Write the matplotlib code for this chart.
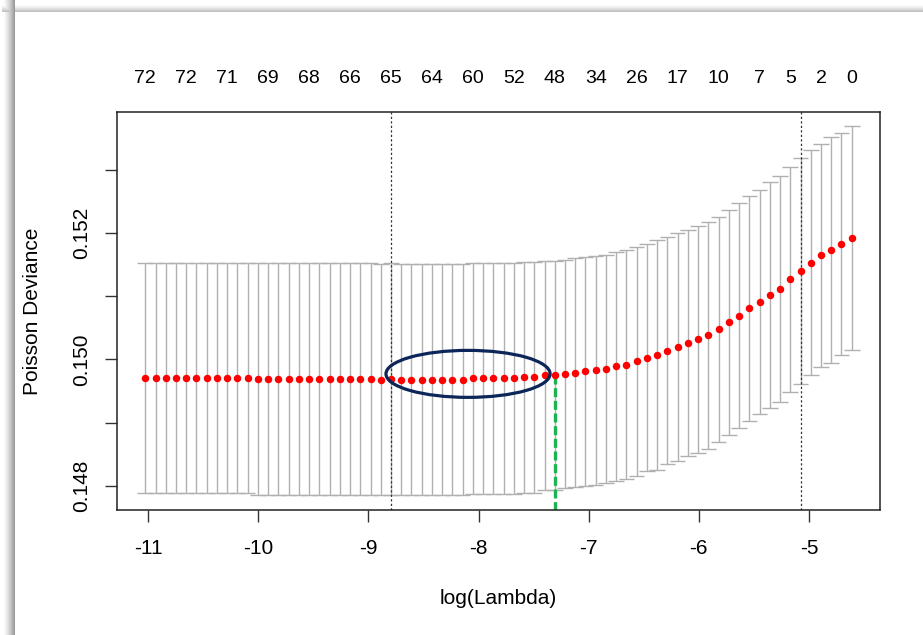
import numpy as np
import matplotlib
matplotlib.use("Agg")
import matplotlib.pyplot as plt
from matplotlib.patches import Ellipse

plt.rcParams["font.family"] = ["Liberation Sans", "DejaVu Sans"]

# cross-validation curve (glmnet style)
log_lambda = [
    -11.025, -10.932, -10.839, -10.746, -10.653, -10.560, -10.467, -10.374, -10.281, -10.189,
    -10.096, -10.003, -9.910, -9.817, -9.724, -9.631, -9.538, -9.445, -9.352, -9.259,
    -9.166, -9.073, -8.980, -8.887, -8.794, -8.702, -8.609, -8.516, -8.423, -8.330,
    -8.237, -8.144, -8.051, -7.958, -7.865, -7.772, -7.679, -7.586, -7.493, -7.400,
    -7.307, -7.215, -7.122, -7.029, -6.936, -6.843, -6.750, -6.657, -6.564, -6.471,
    -6.378, -6.285, -6.192, -6.099, -6.006, -5.913, -5.820, -5.728, -5.635, -5.542,
    -5.449, -5.356, -5.263, -5.170, -5.077, -4.984, -4.891, -4.798, -4.705, -4.612,
]
cvm = [
    0.14970, 0.14970, 0.14970, 0.14970, 0.14970, 0.14970, 0.14970, 0.14970, 0.14970, 0.14970,
    0.14970, 0.14969, 0.14969, 0.14969, 0.14969, 0.14969, 0.14969, 0.14969, 0.14969, 0.14969,
    0.14969, 0.14969, 0.14969, 0.14968, 0.14969, 0.14968, 0.14968, 0.14968, 0.14968, 0.14968,
    0.14968, 0.14968, 0.14970, 0.14970, 0.14970, 0.14970, 0.14970, 0.14972, 0.14972, 0.14975,
    0.14975, 0.14977, 0.14979, 0.14981, 0.14983, 0.14985, 0.14989, 0.14992, 0.14997, 0.15003,
    0.15007, 0.15014, 0.15020, 0.15026, 0.15032, 0.15038, 0.15048, 0.15059, 0.15069, 0.15081,
    0.15091, 0.15102, 0.15112, 0.15127, 0.15140, 0.15153, 0.15165, 0.15173, 0.15183, 0.15192,
]
cvsd = [
    0.00182, 0.00182, 0.00182, 0.00182, 0.00182, 0.00182, 0.00182, 0.00182, 0.00182, 0.00182,
    0.00182, 0.00183, 0.00183, 0.00183, 0.00183, 0.00183, 0.00183, 0.00183, 0.00183, 0.00183,
    0.00183, 0.00183, 0.00183, 0.00183, 0.00183, 0.00183, 0.00183, 0.00183, 0.00183, 0.00183,
    0.00183, 0.00183, 0.00183, 0.00183, 0.00183, 0.00183, 0.00183, 0.00183, 0.00183, 0.00181,
    0.00181, 0.00181, 0.00181, 0.00181, 0.00181, 0.00181, 0.00181, 0.00181, 0.00181, 0.00180,
    0.00182, 0.00180, 0.00180, 0.00179, 0.00180, 0.00180, 0.00178, 0.00178, 0.00178, 0.00178,
    0.00178, 0.00179, 0.00179, 0.00178, 0.00179, 0.00178, 0.00177, 0.00179, 0.00176, 0.00177,
]

# number of non-zero coefficients shown on the top axis
nzero_idx = [0, 4, 8, 12, 16, 20, 24, 28, 32, 36, 40, 44, 48, 52, 56, 60, 63, 66, 69]
nzero_lab = [72, 72, 71, 69, 68, 66, 65, 64, 60, 52, 48, 34, 26, 17, 10, 7, 5, 2, 0]

idx_min = 24     # lambda.min
idx_1se = 64     # lambda.1se
idx_pick = 40    # green marker

x_ticks = [-11, -10, -9, -8, -7, -6, -5]
y_ticks = [0.148, 0.149, 0.150, 0.151, 0.152, 0.153]
y_ticklabels = ["0.148", "", "0.150", "", "0.152", ""]

x = np.array(log_lambda)
m = np.array(cvm)
up = m + np.array(cvsd)
lo = m - np.array(cvsd)

W, H = 923, 635
fig = plt.figure(figsize=(W / 100, H / 100), dpi=100)

# screenshot drop shadow on the left and top
bg = np.ones((H, W))
for c in range(2, 15):
    bg[:, c] = 1 - 0.40 * ((c - 2) / 12) ** 1.5
for r in range(4, 12):
    bg[r, 2:] = np.minimum(bg[r, 2:], 1 - 0.25 * ((r - 4) / 7) ** 1.4)
bga = fig.add_axes([0, 0, 1, 1], zorder=-5)
bga.imshow(bg, cmap="gray", vmin=0, vmax=1, aspect="auto", interpolation="nearest")
bga.axis("off")

ax = fig.add_axes([117 / W, 1 - 510 / H, 763 / W, 398.3 / H])
ax.set_facecolor("white")

grey = "#b0b0b0"
barw = 0.011 * (x.max() - x.min())
ax.vlines(x, lo, up, colors=grey, lw=1.0, zorder=1)
ax.hlines(up, x - barw, x + barw, colors=grey, lw=1.0, zorder=1)
ax.hlines(lo, x - barw, x + barw, colors=grey, lw=1.0, zorder=1)

xr = x.max() - x.min()
ax.set_xlim(x.min() - 0.04 * xr, x.max() + 0.04 * xr)
yr = up.max() - lo.min()
ylo, yhi = lo.min() - 0.04 * yr, up.max() + 0.04 * yr
ax.set_ylim(ylo, yhi)

ax.plot([x[idx_pick], x[idx_pick]], [m[idx_pick], ylo], color="#1db350",
        lw=2.4, dashes=(2.7, 1.1), zorder=2)
ax.plot(x, m, "o", color="red", ms=5.4, mec="none", zorder=3)

for i in (idx_min, idx_1se):
    ax.axvline(x[i], color="#333333", lw=0.9, ls=(0, (1.8, 1.8)), zorder=2)

ax.add_patch(Ellipse((-8.095, 0.149772), 1.49, 0.000744, fill=False,
                     ec="#0c2659", lw=2.3, zorder=4))

for i, lab in zip(nzero_idx, nzero_lab):
    ax.annotate(str(lab), xy=(x[i], 1), xycoords=("data", "axes fraction"),
                xytext=(0, 20.4), textcoords="offset points",
                ha="center", va="baseline", fontsize=14)

ax.set_xticks(x_ticks)
ax.set_xticklabels([str(t) for t in x_ticks])
ax.set_yticks(y_ticks)
ax.set_yticklabels(y_ticklabels, rotation=90, va="center", ha="center")
ax.tick_params(axis="both", direction="out", length=8.6, width=1.0,
               color="#333333", labelsize=15)
ax.tick_params(axis="x", pad=12.5)
ax.tick_params(axis="y", pad=16.8)
for s in ax.spines.values():
    s.set_linewidth(1.1)
    s.set_color("#222222")

ax.set_xlabel("log(Lambda)", fontsize=15)
ax.xaxis.set_label_coords(0.5, (510 - 599) / 398.3)
ax.xaxis.label.set_va("center")
ax.set_ylabel("Poisson Deviance", fontsize=15)
ax.yaxis.set_label_coords((33 - 117) / 763, 0.5)
ax.yaxis.label.set_va("center")

fig.savefig("out.png", dpi=100)
